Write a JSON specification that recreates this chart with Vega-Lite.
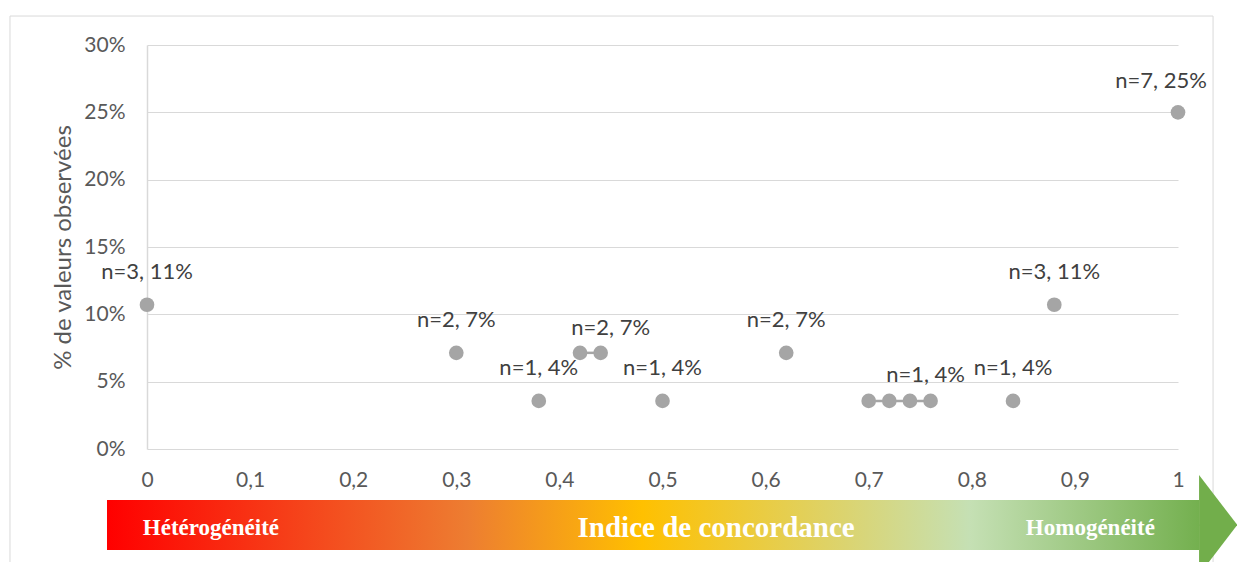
{
  "$schema": "https://vega.github.io/schema/vega-lite/v6.json",
  "width": 1031,
  "height": 404,
  "autosize": {"type": "none"},
  "padding": {"left": 147, "top": 45, "right": 59, "bottom": 113},
  "background": "white",
  "config": {"view": {"stroke": null}, "font": "Lato"},
  "datasets": {
    "pts": [
      {"x": 0.0, "pct": 0.1071, "label": "n=3, 11%", "lbl": "above", "grp": null},
      {"x": 0.30, "pct": 0.0714, "label": "n=2, 7%", "lbl": "above", "grp": null},
      {"x": 0.38, "pct": 0.0357, "label": "n=1, 4%", "lbl": "above", "grp": null},
      {"x": 0.42, "pct": 0.0714, "label": "", "lbl": "none", "grp": "a"},
      {"x": 0.44, "pct": 0.0714, "label": "n=2, 7%", "lbl": "cluster", "grp": "a"},
      {"x": 0.50, "pct": 0.0357, "label": "n=1, 4%", "lbl": "above", "grp": null},
      {"x": 0.62, "pct": 0.0714, "label": "n=2, 7%", "lbl": "above", "grp": null},
      {"x": 0.70, "pct": 0.0357, "label": "", "lbl": "none", "grp": "b"},
      {"x": 0.72, "pct": 0.0357, "label": "", "lbl": "none", "grp": "b"},
      {"x": 0.74, "pct": 0.0357, "label": "", "lbl": "none", "grp": "b"},
      {"x": 0.76, "pct": 0.0357, "label": "n=1, 4%", "lbl": "cluster", "grp": "b"},
      {"x": 0.84, "pct": 0.0357, "label": "n=1, 4%", "lbl": "above", "grp": null},
      {"x": 0.88, "pct": 0.1071, "label": "n=3, 11%", "lbl": "above", "grp": null},
      {"x": 1.0, "pct": 0.25, "label": "n=7, 25%", "lbl": "edge", "grp": null}
    ],
    "frame": [{"x0": -0.1329, "x1": 1.034, "y0": 0.3215, "y1": -0.1}],
    "bar": [{"x0": -0.0388, "x1": 1.0204, "y0": -0.0379, "y1": -0.075}],
    "head": [
      {"x": 1.0204, "y": -0.0193, "y2": -0.0935},
      {"x": 1.0575, "y": -0.0564, "y2": -0.0564}
    ],
    "arrowText": [
      {"x": 0.062, "text": "Hétérogénéité", "kind": "side"},
      {"x": 0.552, "text": "Indice de concordance", "kind": "main"},
      {"x": 0.915, "text": "Homogénéité", "kind": "side"}
    ]
  },
  "layer": [
    {
      "data": {"name": "pts"},
      "mark": {"type": "circle", "opacity": 0, "clip": false},
      "encoding": {
        "x": {
          "field": "x", "type": "quantitative",
          "scale": {"domain": [0, 1], "nice": false, "zero": false},
          "axis": {
            "title": null, "values": [0, 0.1, 0.2, 0.3, 0.4, 0.5, 0.6, 0.7, 0.8, 0.9, 1],
            "labelExpr": "replace(format(datum.value, '.1~f'), '.', ',')",
            "grid": false, "ticks": false, "domain": false, "labelFlush": false,
            "labelPadding": 31, "labelBaseline": "middle",
            "labelFontSize": 21, "labelColor": "#595959", "labelFont": "Lato"
          }
        },
        "y": {
          "field": "pct", "type": "quantitative",
          "scale": {"domain": [0, 0.3], "nice": false, "zero": false},
          "axis": {
            "title": "% de valeurs observées", "values": [0, 0.05, 0.1, 0.15, 0.2, 0.25, 0.3],
            "format": ".0%", "grid": true, "gridColor": "#D9D9D9", "gridWidth": 1,
            "domain": true, "domainColor": "#D9D9D9", "domainWidth": 1.5, "ticks": false, "labelFlush": false,
            "labelPadding": 22, "labelBaseline": "middle", "labelFontSize": 21, "labelColor": "#595959",
            "labelFont": "Lato", "titleFont": "Lato", "titleFontSize": 24, "titleFontWeight": "normal",
            "titleColor": "#595959", "titlePadding": 8
          }
        }
      }
    },
    {
      "data": {"name": "frame"},
      "mark": {"type": "rect", "fill": null, "stroke": "#D9D9D9", "strokeWidth": 1, "clip": false},
      "encoding": {
        "x": {"field": "x0", "type": "quantitative", "scale": {"domain": [0, 1], "nice": false, "zero": false}},
        "x2": {"field": "x1"},
        "y": {"field": "y0", "type": "quantitative", "scale": {"domain": [0, 0.3], "nice": false, "zero": false}},
        "y2": {"field": "y1"}
      }
    },
    {
      "data": {"name": "pts"},
      "transform": [{"filter": "datum.grp != null"}],
      "mark": {"type": "line", "color": "#A5A5A5", "strokeWidth": 2.5, "clip": false},
      "encoding": {
        "x": {"field": "x", "type": "quantitative", "scale": {"domain": [0, 1], "nice": false, "zero": false}},
        "y": {"field": "pct", "type": "quantitative", "scale": {"domain": [0, 0.3], "nice": false, "zero": false}},
        "detail": {"field": "grp"}
      }
    },
    {
      "data": {"name": "pts"},
      "mark": {"type": "circle", "size": 215, "color": "#A5A5A5", "opacity": 1, "clip": false},
      "encoding": {
        "x": {"field": "x", "type": "quantitative", "scale": {"domain": [0, 1], "nice": false, "zero": false}},
        "y": {"field": "pct", "type": "quantitative", "scale": {"domain": [0, 0.3], "nice": false, "zero": false}}
      }
    },
    {
      "data": {"name": "pts"},
      "transform": [{"filter": "datum.lbl == 'above'"}],
      "mark": {"type": "text", "dy": -33, "baseline": "middle", "align": "center", "fontSize": 22, "color": "#404040", "font": "Lato", "clip": false},
      "encoding": {
        "x": {"field": "x", "type": "quantitative", "scale": {"domain": [0, 1], "nice": false, "zero": false}},
        "y": {"field": "pct", "type": "quantitative", "scale": {"domain": [0, 0.3], "nice": false, "zero": false}},
        "text": {"field": "label"}
      }
    },
    {
      "data": {"name": "pts"},
      "transform": [{"filter": "datum.lbl == 'cluster' && datum.x < 0.5"}],
      "mark": {"type": "text", "dy": -25, "dx": 10, "baseline": "middle", "align": "center", "fontSize": 22, "color": "#404040", "font": "Lato", "clip": false},
      "encoding": {
        "x": {"field": "x", "type": "quantitative", "scale": {"domain": [0, 1], "nice": false, "zero": false}},
        "y": {"field": "pct", "type": "quantitative", "scale": {"domain": [0, 0.3], "nice": false, "zero": false}},
        "text": {"field": "label"}
      }
    },
    {
      "data": {"name": "pts"},
      "transform": [{"filter": "datum.lbl == 'cluster' && datum.x > 0.5"}],
      "mark": {"type": "text", "dy": -26, "dx": -5, "baseline": "middle", "align": "center", "fontSize": 22, "color": "#404040", "font": "Lato", "clip": false},
      "encoding": {
        "x": {"field": "x", "type": "quantitative", "scale": {"domain": [0, 1], "nice": false, "zero": false}},
        "y": {"field": "pct", "type": "quantitative", "scale": {"domain": [0, 0.3], "nice": false, "zero": false}},
        "text": {"field": "label"}
      }
    },
    {
      "data": {"name": "pts"},
      "transform": [{"filter": "datum.lbl == 'edge'"}],
      "mark": {"type": "text", "dy": -31, "dx": -17, "baseline": "middle", "align": "center", "fontSize": 22, "color": "#404040", "font": "Lato", "clip": false},
      "encoding": {
        "x": {"field": "x", "type": "quantitative", "scale": {"domain": [0, 1], "nice": false, "zero": false}},
        "y": {"field": "pct", "type": "quantitative", "scale": {"domain": [0, 0.3], "nice": false, "zero": false}},
        "text": {"field": "label"}
      }
    },
    {
      "data": {"name": "bar"},
      "mark": {
        "type": "rect", "clip": false,
        "fill": {
          "gradient": "linear", "x1": 0, "y1": 0, "x2": 1, "y2": 0,
          "stops": [
            {"offset": 0, "color": "#FF0000"},
            {"offset": 0.33, "color": "#ED7D31"},
            {"offset": 0.49, "color": "#FFC000"},
            {"offset": 0.79, "color": "#C5E0B4"},
            {"offset": 1, "color": "#74B04F"}
          ]
        }
      },
      "encoding": {
        "x": {"field": "x0", "type": "quantitative", "scale": {"domain": [0, 1], "nice": false, "zero": false}},
        "x2": {"field": "x1"},
        "y": {"field": "y0", "type": "quantitative", "scale": {"domain": [0, 0.3], "nice": false, "zero": false}},
        "y2": {"field": "y1"}
      }
    },
    {
      "data": {"name": "head"},
      "mark": {"type": "area", "color": "#72AE4B", "opacity": 1, "clip": false, "orient": "vertical"},
      "encoding": {
        "x": {"field": "x", "type": "quantitative", "scale": {"domain": [0, 1], "nice": false, "zero": false}},
        "y": {"field": "y", "type": "quantitative", "scale": {"domain": [0, 0.3], "nice": false, "zero": false}},
        "y2": {"field": "y2"}
      }
    },
    {
      "data": {"name": "arrowText"},
      "transform": [{"filter": "datum.kind == 'side'"}],
      "mark": {"type": "text", "font": "Liberation Serif", "fontWeight": "bold", "fontSize": 23, "color": "white", "baseline": "middle", "align": "center", "clip": false},
      "encoding": {
        "x": {"field": "x", "type": "quantitative", "scale": {"domain": [0, 1], "nice": false, "zero": false}},
        "y": {"datum": -0.0587, "type": "quantitative", "scale": {"domain": [0, 0.3], "nice": false, "zero": false}},
        "text": {"field": "text"}
      }
    },
    {
      "data": {"name": "arrowText"},
      "transform": [{"filter": "datum.kind == 'main'"}],
      "mark": {"type": "text", "font": "Liberation Serif", "fontWeight": "bold", "fontSize": 29, "color": "white", "baseline": "middle", "align": "center", "clip": false},
      "encoding": {
        "x": {"field": "x", "type": "quantitative", "scale": {"domain": [0, 1], "nice": false, "zero": false}},
        "y": {"datum": -0.0587, "type": "quantitative", "scale": {"domain": [0, 0.3], "nice": false, "zero": false}},
        "text": {"field": "text"}
      }
    }
  ]
}
